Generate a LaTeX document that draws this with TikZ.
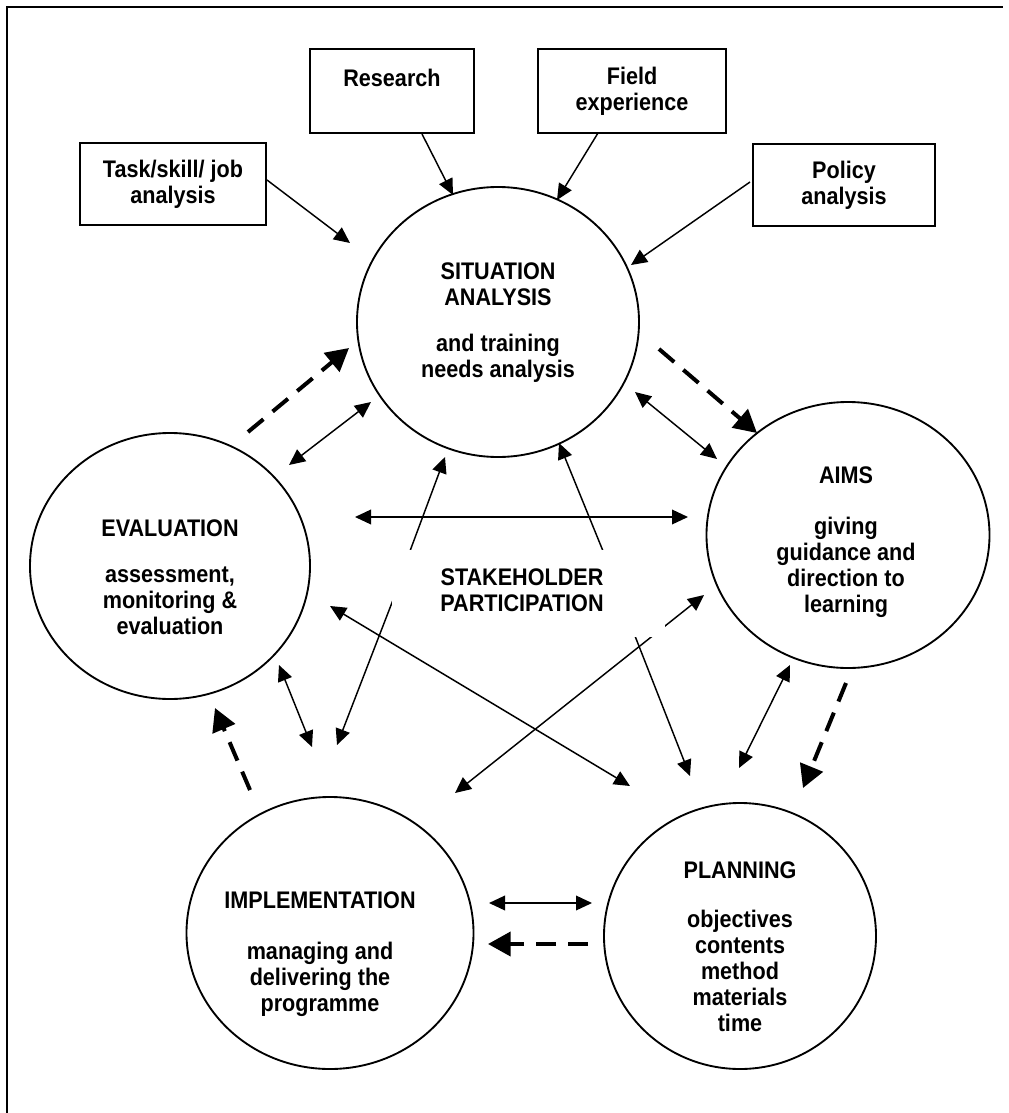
\documentclass[tikz,border=0pt]{standalone}
\usepackage{fontspec}
\setmainfont{Liberation Sans}[FakeStretch=0.9]
\usetikzlibrary{shapes.geometric,arrows.meta}
\pgfdeclarelayer{bg}
\pgfsetlayers{bg,main}
\begin{document}
\begin{tikzpicture}[x=0.75pt,y=-0.75pt,
  every node/.style={font=\fontsize{18}{19.5}\selectfont\bfseries, align=center},
  box/.style={draw, line width=1.3pt, inner sep=0pt},
  ell/.style={draw, ellipse, line width=1.4pt, inner sep=0pt},
  con/.style={line width=1.1pt, -{Triangle[length=12pt,width=11pt]}},
  bicon/.style={line width=1.1pt, {Triangle[length=12pt,width=11pt]}-{Triangle[length=12pt,width=11pt]}},
  dshcon/.style={line width=3pt, dash pattern=on 15pt off 9pt, -{Triangle[length=17pt,width=18pt]}}
]
\useasboundingbox (0,0) rectangle (1009,1113);
% frame
\coordinate (fb) at (7,1113);
\coordinate (fc) at (7,7);
\coordinate (fr) at (1003,7);
\draw[line width=1.5pt] (fb) -- (fc) -- (fr);

% boxes
\node[box, minimum width=139.5pt, minimum height=61.5pt] (task) at (173,184) {Task/skill/ job\\analysis};
\node[box, minimum width=123pt, minimum height=63pt] (research) at (392,91) {Research\\\mbox{}};
\node[box, minimum width=141pt, minimum height=63pt] (field) at (632,91) {Field\\experience};
\node[box, minimum width=136.5pt, minimum height=61.5pt] (policy) at (844,185) {Policy\\analysis};

% ellipses
\node[ell, minimum width=211.5pt, minimum height=202.5pt] (sit) at (498,322) {};
\node[ell, minimum width=212.25pt, minimum height=199.5pt] (aims) at (848,535) {};
\node[ell, minimum width=204pt, minimum height=199.5pt] (plan) at (740,936) {};
\node[ell, minimum width=215.25pt, minimum height=204pt] (impl) at (330,933) {};
\node[ell, minimum width=210pt, minimum height=199.5pt] (eval) at (170,566) {};

% texts in ellipses
\node (sitT) at (498,323) {SITUATION\\ANALYSIS\\[15pt]and training\\needs analysis};
\node (aimsT) at (846,542) {AIMS\\[19pt]giving\\guidance and\\direction to\\learning};
\node (planT) at (740,947) {PLANNING\\[17pt]objectives\\contents\\method\\materials\\time};
\node (implT) at (320,954) {IMPLEMENTATION\\[19pt]managing and\\delivering the\\programme};
\node (evalT) at (170,577) {EVALUATION\\[15pt]assessment,\\monitoring \&\\evaluation};

% stakeholder (white block over crossing lines)
\node[fill=white, inner sep=0pt, minimum width=204.75pt, minimum height=65.25pt] (stake) at (528,593) {};
\node (stakeT) at (522,590) {STAKEHOLDER\\PARTICIPATION};

% connector end points
\coordinate (a1) at (267,180);  \coordinate (b1) at (350,243);
\coordinate (a2) at (422,134);  \coordinate (b2) at (453,195);
\coordinate (a3) at (598,133);  \coordinate (b3) at (557,200);
\coordinate (a4) at (750,182);  \coordinate (b4) at (631,265);
\coordinate (a5) at (248,432);  \coordinate (b5) at (349,348);
\coordinate (a6) at (289,465);  \coordinate (b6) at (371,402);
\coordinate (a7) at (659,349);  \coordinate (b7) at (757,433);
\coordinate (a8) at (635,392);  \coordinate (b8) at (717,459);
\coordinate (a9) at (355,517);  \coordinate (b9) at (688,517);
\coordinate (a10) at (410,551); \coordinate (b10) at (445,457);
\coordinate (a11) at (603,551); \coordinate (b11) at (559,443);
\coordinate (a12) at (393,600); \coordinate (b12) at (337,745);
\coordinate (a13) at (279,665); \coordinate (b13) at (312,747);
\coordinate (a14) at (250,790); \coordinate (b14) at (215,708);
\coordinate (a15) at (330,606); \coordinate (b15) at (630,786);
\coordinate (a16) at (704,595); \coordinate (b16) at (455,793);
\coordinate (a17) at (635,636); \coordinate (b17) at (690,776);
\coordinate (a18) at (790,665); \coordinate (b18) at (739,768);
\coordinate (a19) at (846,683); \coordinate (b19) at (803,788);
\coordinate (a20) at (489,903); \coordinate (b20) at (592,903);
\coordinate (a21) at (588,944); \coordinate (b21) at (488,944);

\begin{pgfonlayer}{bg}
\draw[con] (a1) -- (b1);
\draw[con] (a2) -- (b2);
\draw[con] (a3) -- (b3);
\draw[con] (a4) -- (b4);
\draw[dshcon] (a5) -- (b5);
\draw[bicon] (a6) -- (b6);
\draw[dshcon] (a7) -- (b7);
\draw[bicon] (a8) -- (b8);
\draw[bicon] (a9) -- (b9);
\draw[con] (a10) -- (b10);
\draw[con] (a11) -- (b11);
\draw[con] (a12) -- (b12);
\draw[bicon] (a13) -- (b13);
\draw[dshcon] (a14) -- (b14);
\draw[bicon] (a15) -- (b15);
\draw[bicon] (a16) -- (b16);
\draw[con] (a17) -- (b17);
\draw[bicon] (a18) -- (b18);
\draw[dshcon] (a19) -- (b19);
\draw[bicon] (a20) -- (b20);
\draw[dshcon] (a21) -- (b21);
\end{pgfonlayer}
\end{tikzpicture}
\end{document}
